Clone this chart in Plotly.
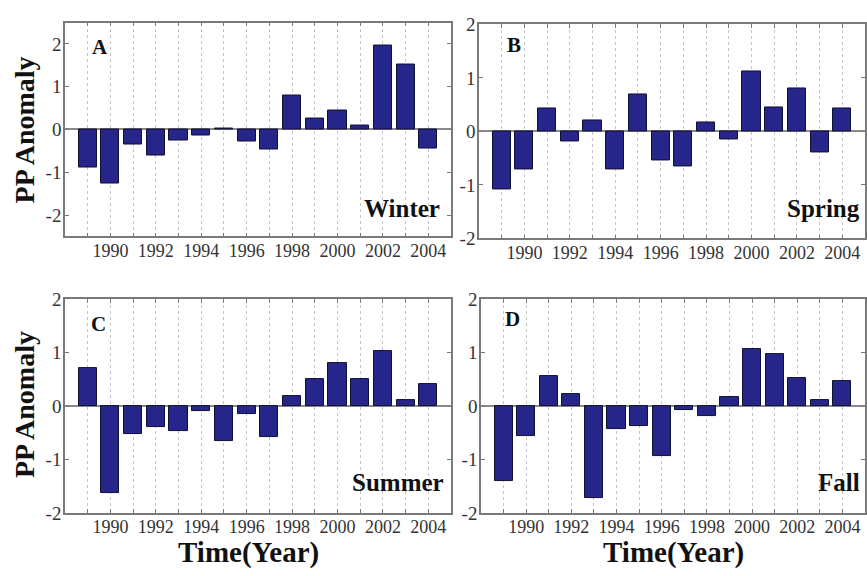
import plotly.graph_objects as go

years = list(range(1989, 2005))

winter = [-0.89, -1.26, -0.36, -0.61, -0.25, -0.13, 0.03, -0.27,
          -0.46, 0.80, 0.26, 0.45, 0.10, 1.97, 1.53, -0.44]
spring = [-1.08, -0.71, 0.43, -0.18, 0.20, -0.71, 0.69, -0.55,
          -0.66, 0.16, -0.15, 1.13, 0.44, 0.80, -0.39, 0.43]
summer = [0.71, -1.63, -0.52, -0.40, -0.46, -0.10, -0.65, -0.15,
          -0.58, 0.19, 0.50, 0.81, 0.50, 1.02, 0.12, 0.41]
fall = [-1.41, -0.57, 0.56, 0.22, -1.72, -0.43, -0.38, -0.93,
        -0.07, -0.19, 0.16, 1.07, 0.97, 0.52, 0.11, 0.47]

panel_letters = ["A", "B", "C", "D"]
season_names = ["Winter", "Spring", "Summer", "Fall"]
series = [winter, spring, summer, fall]
y_ranges = [[-2.5, 2.5], [-2, 2], [-2, 2], [-2, 2]]
y_ticks = [-2, -1, 0, 1, 2]
y_tick_text = ["-2", "-1", "0", "1", "2"]
x_tick_text = [str(y) if y % 2 == 0 else "" for y in years]

W, H = 867, 576
SERIF = "Liberation Serif, Times New Roman, serif"
BAR = "#26268a"
FRAME = "#7a7a7a"

# panel boxes in pixels: (left, right, top, bottom)
boxes = [(65, 451, 13, 235), (479, 865, 15, 237),
         (65, 451, 300, 522), (481, 865, 300, 522)]


def px(x):
    return x / W


def py(y):
    return 1 - y / H


fig = go.Figure()
for i, (vals, box) in enumerate(zip(series, boxes)):
    n = "" if i == 0 else str(i + 1)
    fig.add_trace(go.Bar(
        x=years, y=vals, width=0.8,
        marker=dict(color=BAR, line=dict(color="#101030", width=1)),
        xaxis="x" + n, yaxis="y" + n, showlegend=False,
    ))
    l, r, t, b = box
    fig.layout["xaxis" + n] = dict(
        domain=[px(l), px(r)], anchor="y" + n, range=[1988, 2005],
        tickmode="array", tickvals=years, ticktext=x_tick_text,
        ticks="inside", ticklen=4, tickcolor=FRAME,
        showline=True, linecolor=FRAME, linewidth=1.5, mirror="ticks",
        showgrid=True, gridcolor="#c4c4c4", griddash="dot", gridwidth=1,
        zeroline=False, ticklabelstandoff=-3,
        tickfont=dict(family=SERIF, size=18, color="#333333"),
    )
    fig.layout["yaxis" + n] = dict(
        domain=[py(b), py(t)], anchor="x" + n, range=y_ranges[i],
        tickmode="array", tickvals=y_ticks, ticktext=y_tick_text,
        ticks="inside", ticklen=4, tickcolor=FRAME,
        showline=True, linecolor=FRAME, linewidth=1.5, mirror="ticks",
        showgrid=False, zeroline=True, zerolinecolor="#8a8a8a",
        zerolinewidth=1.5, ticklabelstandoff=-2,
        tickfont=dict(family=SERIF, size=19, color="#333333"),
    )

annotations = []
letter_pos = [(100, 38), (514, 36), (98, 326), (512, 321)]
season_pos = [(442, 206), (862, 206), (446, 490), (862, 490)]
for i in range(4):
    lx, ly = letter_pos[i]
    annotations.append(dict(
        x=px(lx), y=py(ly), xref="paper", yref="paper", showarrow=False,
        xanchor="center", yanchor="middle",
        text="<b>%s</b>" % panel_letters[i],
        font=dict(family=SERIF, size=21, color="#111111"),
    ))
    sx, sy = season_pos[i]
    annotations.append(dict(
        x=px(sx), y=py(sy), xref="paper", yref="paper", showarrow=False,
        xanchor="right", yanchor="middle",
        text="<b>%s</b>" % season_names[i],
        font=dict(family=SERIF, size=25, color="#111111"),
    ))

for cy in (125, 410):
    annotations.append(dict(
        x=px(24), y=py(cy), xref="paper", yref="paper", showarrow=False,
        xanchor="center", yanchor="middle",
        text="<b>PP Anomaly</b>", textangle=-90,
        font=dict(family=SERIF, size=28, color="#111111"),
    ))
for cx in (248, 673):
    annotations.append(dict(
        x=px(cx), y=py(563), xref="paper", yref="paper", showarrow=False,
        xanchor="center", yanchor="middle",
        text="<b>Time(Year)</b>",
        font=dict(family=SERIF, size=29, color="#111111"),
    ))

fig.update_layout(
    width=W, height=H,
    margin=dict(l=0, r=0, t=0, b=0),
    paper_bgcolor="white", plot_bgcolor="white",
    bargap=0, annotations=annotations,
)

fig.write_html("out.html")
